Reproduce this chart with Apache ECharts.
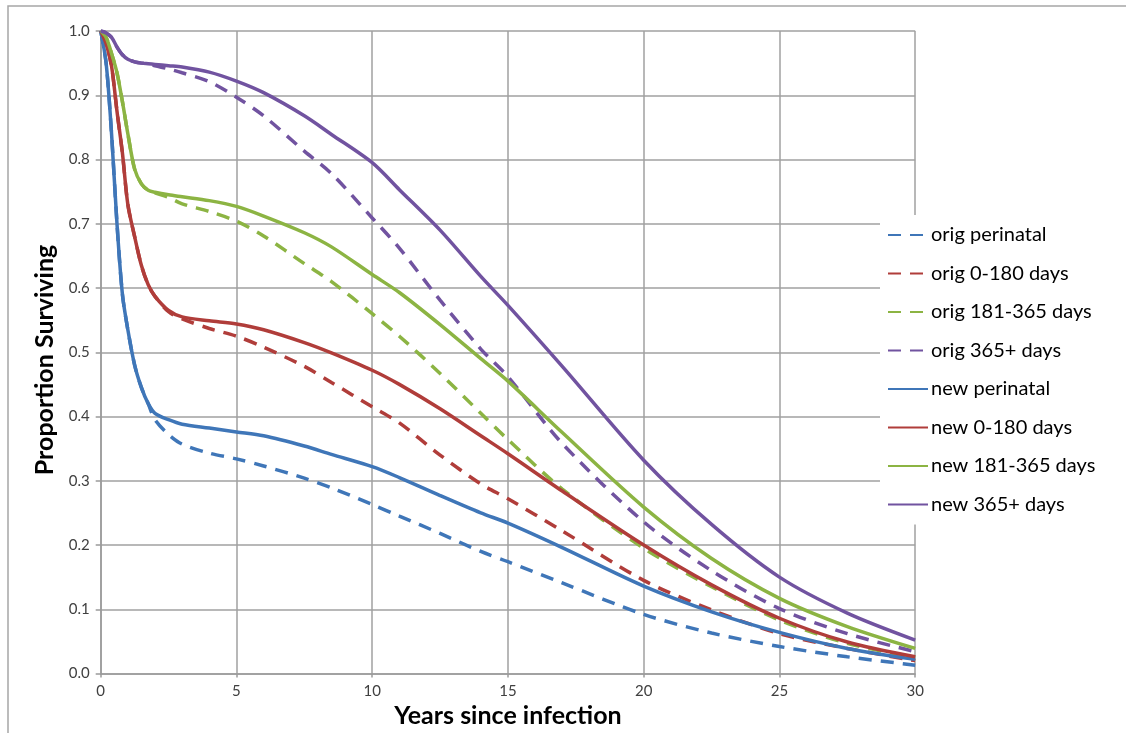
<!DOCTYPE html>
<html>
<head>
<meta charset="utf-8">
<script src="https://cdn.jsdelivr.net/npm/echarts@6/dist/echarts.min.js"></script>
<style>
html,body{margin:0;padding:0;background:#fff;}
#chart{width:1126px;height:733px;}
</style>
</head>
<body>
<div id="chart"></div>
<script>
// Years since infection (x positions of the sampled points)
const years = [0, 0.2, 0.4, 0.6, 0.8, 1.0, 1.25, 1.5, 1.75, 2.0, 2.5, 3, 4, 5, 6, 7.5, 8.5, 10, 11, 12.5, 14, 15, 17, 20, 22.5, 25, 27.5, 30];

const seriesNames = ['orig perinatal', 'orig 0-180 days', 'orig 181-365 days', 'orig 365+ days',
                     'new perinatal', 'new 0-180 days', 'new 181-365 days', 'new 365+ days'];

const newPerinatal = [1.0, 0.95, 0.84, 0.70, 0.59, 0.535, 0.48, 0.445, 0.42, 0.405, 0.395, 0.388, 0.382, 0.376, 0.370, 0.354, 0.341, 0.322, 0.305, 0.277, 0.25, 0.234, 0.196, 0.136, 0.096, 0.064, 0.039, 0.022];
const origPerinatal = [1.0, 0.95, 0.84, 0.70, 0.59, 0.535, 0.48, 0.445, 0.42, 0.395, 0.372, 0.357, 0.343, 0.334, 0.323, 0.304, 0.289, 0.263, 0.245, 0.218, 0.19, 0.174, 0.141, 0.092, 0.063, 0.042, 0.026, 0.013];

const new0180 = [1.0, 0.98, 0.945, 0.875, 0.81, 0.73, 0.68, 0.635, 0.605, 0.587, 0.565, 0.555, 0.549, 0.544, 0.535, 0.515, 0.499, 0.472, 0.45, 0.412, 0.37, 0.342, 0.284, 0.2, 0.138, 0.086, 0.049, 0.026];
const orig0180 = [1.0, 0.98, 0.945, 0.875, 0.81, 0.73, 0.68, 0.635, 0.605, 0.587, 0.563, 0.552, 0.537, 0.525, 0.508, 0.478, 0.453, 0.415, 0.39, 0.34, 0.295, 0.272, 0.222, 0.145, 0.099, 0.062, 0.039, 0.02];

const new181365 = [1.0, 0.99, 0.965, 0.935, 0.89, 0.84, 0.785, 0.762, 0.752, 0.749, 0.745, 0.742, 0.736, 0.727, 0.712, 0.686, 0.664, 0.621, 0.593, 0.543, 0.49, 0.455, 0.375, 0.259, 0.179, 0.117, 0.073, 0.039];
const orig181365 = [1.0, 0.99, 0.965, 0.935, 0.89, 0.84, 0.785, 0.762, 0.752, 0.748, 0.741, 0.731, 0.719, 0.704, 0.681, 0.638, 0.61, 0.56, 0.525, 0.467, 0.405, 0.364, 0.287, 0.195, 0.135, 0.083, 0.047, 0.025];

const new365 = [1.0, 0.997, 0.99, 0.975, 0.963, 0.956, 0.952, 0.95, 0.949, 0.948, 0.946, 0.944, 0.936, 0.922, 0.904, 0.868, 0.839, 0.795, 0.753, 0.69, 0.618, 0.573, 0.478, 0.332, 0.232, 0.15, 0.094, 0.052];
const orig365 = [1.0, 0.997, 0.99, 0.975, 0.963, 0.956, 0.952, 0.95, 0.949, 0.946, 0.941, 0.935, 0.921, 0.897, 0.868, 0.813, 0.778, 0.709, 0.662, 0.581, 0.505, 0.462, 0.358, 0.236, 0.16, 0.101, 0.062, 0.034];

const xTicks = [0, 5, 10, 15, 20, 25, 30];
const yTicks = ['0.0','0.1','0.2','0.3','0.4','0.5','0.6','0.7','0.8','0.9','1.0'];

const colors = ['#3F76B8', '#B03D3A', '#8CB443', '#7153A0'];
const dataSets = [origPerinatal, orig0180, orig181365, orig365, newPerinatal, new0180, new181365, new365];

function pairs(vals){ return years.map((y,i)=>[y, vals[i]]); }

const series = dataSets.map((vals, i) => {
  const dashed = i < 4;
  return {
    name: seriesNames[i],
    type: 'line',
    data: pairs(vals),
    symbol: 'none',
    smooth: 0.3,
    z: dashed ? 2 : 3,
    lineStyle: { color: colors[i % 4], width: 3.5, type: dashed ? [13, 9] : 'solid', cap: 'butt' },
    itemStyle: { color: colors[i % 4] },
    emphasis: { disabled: true }
  };
});

const chart = echarts.init(document.getElementById('chart'), null, {renderer: 'canvas'});
const font = 'Lato, "Liberation Sans", sans-serif';
chart.setOption({
  animation: false,
  backgroundColor: '#ffffff',
  grid: { left: 100.7, right: 210.8, top: 31, bottom: 59.5, containLabel: false },
  xAxis: {
    type: 'value', min: 0, max: 30, interval: 5,
    axisLine: { show: true, lineStyle: { color: '#9a9a9a', width: 1.5 } },
    axisTick: { show: true, length: 4, lineStyle: { color: '#9a9a9a', width: 1.5 } },
    axisLabel: { color: '#404040', fontSize: 15, fontFamily: font, margin: 10,
      formatter: v => xTicks.includes(v) ? String(v) : '' },
    splitLine: { show: true, lineStyle: { color: '#a0a0a0', width: 1.5 } }
  },
  yAxis: {
    type: 'value', min: 0, max: 1, interval: 0.1,
    axisLine: { show: true, lineStyle: { color: '#9a9a9a', width: 1.5 } },
    axisTick: { show: true, length: 5, lineStyle: { color: '#9a9a9a', width: 1.5 } },
    axisLabel: { color: '#404040', fontSize: 15, fontFamily: font, margin: 11,
      formatter: v => yTicks[Math.round(v * 10)] },
    splitLine: { show: true, lineStyle: { color: '#a0a0a0', width: 1.5 } }
  },
  legend: {
    orient: 'vertical',
    left: 880, top: 215,
    padding: [10, 12, 10, 7],
    backgroundColor: '#ffffff',
    itemWidth: 40, itemHeight: 14, itemGap: 18.5,
    data: seriesNames,
    itemStyle: { opacity: 0 },
    textStyle: { fontSize: 20, lineHeight: 20, color: '#000', fontFamily: font, padding: [0,0,0,-2] },
    selectedMode: false,
    z: 10
  },
  graphic: [
    { type: 'rect', silent: true, z: -1, shape: { x: 8, y: 6, width: 1130, height: 760 },
      style: { fill: 'none', stroke: '#a6a6a6', lineWidth: 1.5 } },
    { type: 'text', x: 45, y: 360, rotation: Math.PI / 2, silent: true,
      style: { text: 'Proportion Surviving', font: 'bold 25px ' + font, fill: '#000', align: 'center', verticalAlign: 'middle' } },
    { type: 'text', x: 508, y: 716, silent: true,
      style: { text: 'Years since infection', font: 'bold 25px ' + font, fill: '#000', align: 'center', verticalAlign: 'middle' } }
  ],
  series: series
});
</script>
</body>
</html>
